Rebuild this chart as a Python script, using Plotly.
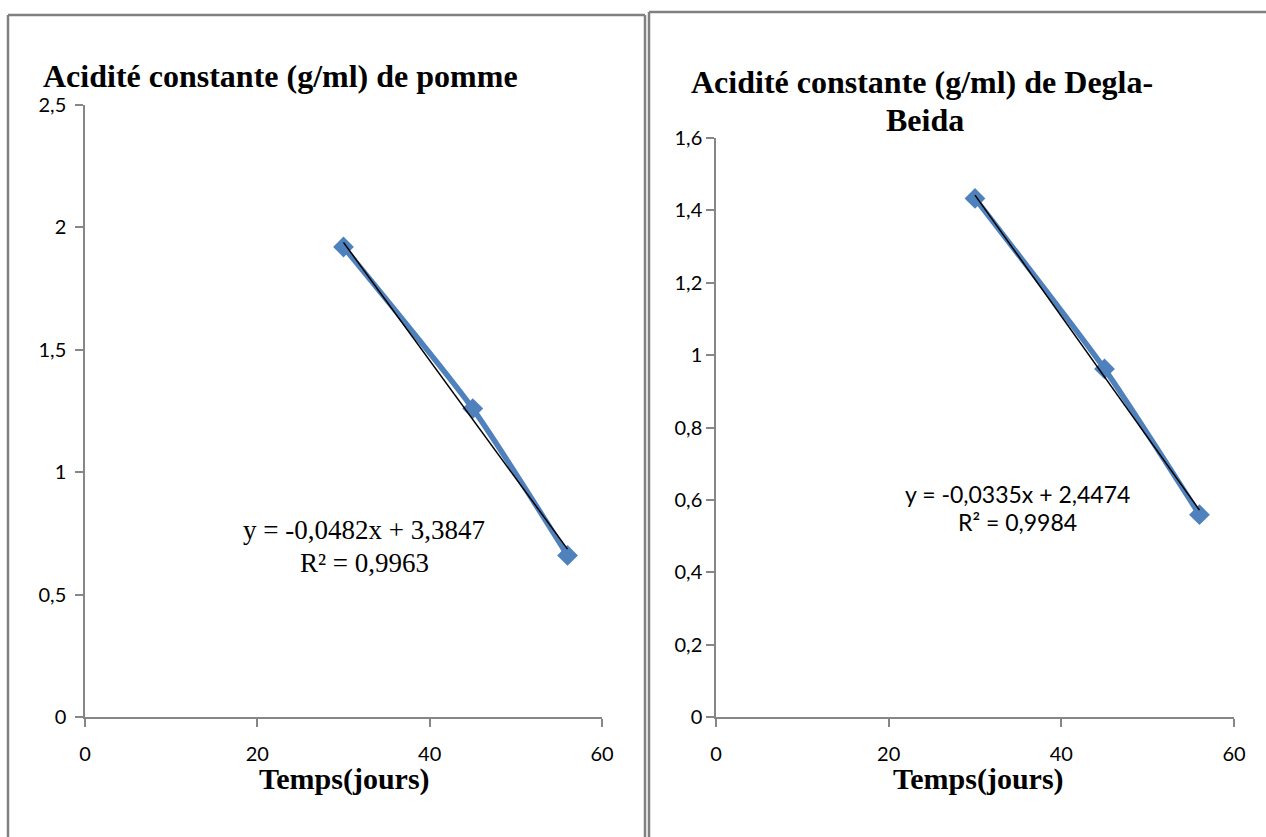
import plotly.graph_objects as go
import numpy as np

W, H = 1266, 837

# ---- data ----
days_pomme = [30, 45, 56]
acid_pomme = [1.92, 1.26, 0.66]
days_degla = [30, 45, 56]
acid_degla = [1.433, 0.962, 0.559]

x_ticks = [0, 20, 40, 60]
x_labels = ["0", "20", "40", "60"]
y_ticks_pomme = [0, 0.5, 1, 1.5, 2, 2.5]
y_labels_pomme = ["0", "0,5", "1", "1,5", "2", "2,5"]
y_ticks_degla = [0, 0.2, 0.4, 0.6, 0.8, 1.0, 1.2, 1.4, 1.6]
y_labels_degla = ["0", "0,2", "0,4", "0,6", "0,8", "1", "1,2", "1,4", "1,6"]

title_pomme = "Acidité constante (g/ml) de pomme"
title_degla_1 = "Acidité constante (g/ml) de Degla-"
title_degla_2 = "Beida"
xaxis_title = "Temps(jours)"
eq_pomme = ["y = -0,0482x + 3,3847", "R² = 0,9963"]
eq_degla = ["y = -0,0335x + 2,4474", "R² = 0,9984"]


def px(x):
    return x / W


def py(y):
    return 1 - y / H


BLUE = "#4F81BD"
AXC = "#868686"
SERIF = "Liberation Serif, Times New Roman, serif"
SANS = "Lato, Open Sans, sans-serif"

fig = go.Figure()

for (xs, ys, xa, ya) in [(days_pomme, acid_pomme, "x", "y"),
                         (days_degla, acid_degla, "x2", "y2")]:
    fig.add_trace(go.Scatter(
        x=xs, y=ys, xaxis=xa, yaxis=ya, mode="lines+markers",
        line=dict(color=BLUE, width=5.5, shape="spline", smoothing=0.6),
        marker=dict(symbol="diamond", size=16, color=BLUE),
        showlegend=False, hoverinfo="skip"))
    fit = np.polyfit(xs, ys, 1)
    tx = [min(xs), max(xs)]
    fig.add_trace(go.Scatter(
        x=tx, y=list(np.polyval(fit, tx)), xaxis=xa, yaxis=ya, mode="lines",
        line=dict(color="black", width=1.5), showlegend=False, hoverinfo="skip"))

axis_common = dict(showline=True, linecolor=AXC, linewidth=1.5, ticks="outside",
                   ticklen=8, tickcolor=AXC, tickwidth=1.5, showgrid=False,
                   zeroline=False, tickfont=dict(family=SANS, size=20, color="black"),
                   fixedrange=True, automargin=False)

fig.update_layout(
    width=W, height=H, margin=dict(l=0, r=0, t=0, b=0, autoexpand=False),
    paper_bgcolor="white", plot_bgcolor="white",
    xaxis=dict(domain=[px(85), px(602)], range=[0, 60], tickvals=x_ticks,
               ticktext=x_labels, anchor="y", ticklabelstandoff=10, **axis_common),
    yaxis=dict(domain=[py(717), py(105)], range=[0, 2.5], tickvals=y_ticks_pomme,
               ticktext=y_labels_pomme, anchor="x", ticklabelstandoff=5, **axis_common),
    xaxis2=dict(domain=[px(716), px(1234)], range=[0, 60], tickvals=x_ticks,
                ticktext=x_labels, anchor="y2", ticklabelstandoff=10, **axis_common),
    yaxis2=dict(domain=[py(717), py(138)], range=[0, 1.6], tickvals=y_ticks_degla,
                ticktext=y_labels_degla, anchor="x2", ticklabelstandoff=0, **axis_common),
)

# panel borders (kept inside the page)
border = dict(color="#808080", width=2.5)
for (x0, y0, x1, y1) in [(8, 15, 645, 15), (8, 15, 8, 837), (645, 15, 645, 837),
                         (649, 12, 1266, 12), (649, 12, 649, 837)]:
    fig.add_shape(type="line", xref="paper", yref="paper",
                  x0=px(x0), x1=px(x1), y0=py(y0), y1=py(y1),
                  line=border, layer="below")

ann = []


def add_text(text, x, y, font):
    ann.append(dict(text=text, x=px(x), y=py(y), xref="paper", yref="paper",
                    showarrow=False, font=font, xanchor="center", yanchor="middle"))


add_text("<b>" + title_pomme + "</b>", 280, 76, dict(family=SERIF, size=32, color="black"))
add_text("<b>" + title_degla_1 + "</b>", 922, 82, dict(family=SERIF, size=32, color="black"))
add_text("<b>" + title_degla_2 + "</b>", 925, 120, dict(family=SERIF, size=32, color="black"))
for cx in (344, 978):
    add_text("<b>" + xaxis_title + "</b>", cx, 779, dict(family=SERIF, size=30, color="black"))
for t, yy in zip(eq_pomme, [530, 563]):
    add_text(t, 364, yy, dict(family=SERIF, size=27, color="black"))
for t, yy in zip(eq_degla, [494, 522]):
    add_text(t, 1017, yy, dict(family=SANS, size=23, color="black"))

fig.update_layout(annotations=ann)

fig.write_html("out.html")
